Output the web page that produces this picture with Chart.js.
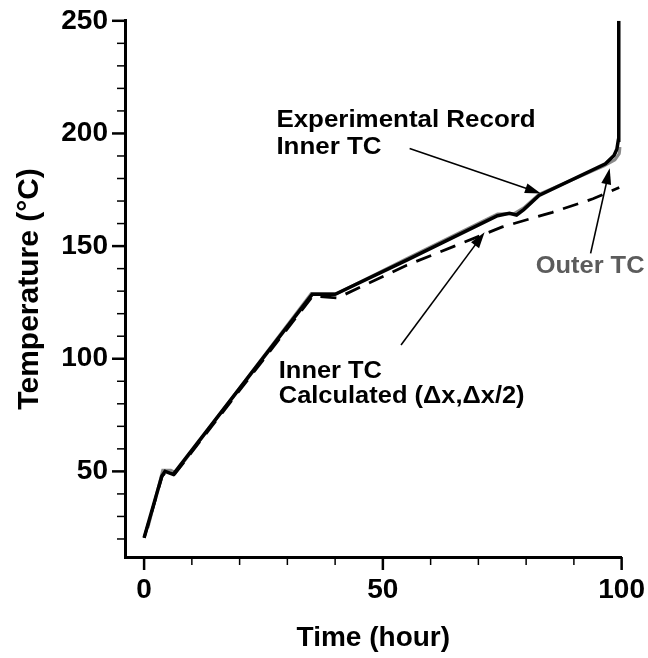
<!DOCTYPE html>
<html>
<head>
<meta charset="utf-8">
<script src="https://cdn.jsdelivr.net/npm/chart.js@4.4.1/dist/chart.umd.min.js"></script>
<style>
  html, body { margin: 0; padding: 0; background: #fff; }
</style>
</head>
<body>
<canvas id="myChart" width="648" height="658"></canvas>
<script>
// tick labels / minor ticks
var xTickLabels = [0, 50, 100];
var xMinorTicks = [10, 20, 30, 40, 60, 70, 80, 90];
var yTickLabels = [50, 100, 150, 200, 250];
var yMinorTicks = [20, 30, 40, 60, 70, 80, 90, 110, 120, 130, 140, 160, 170, 180, 190, 210, 220, 230, 240];

// Experimental record, inner TC (hour, degC)
var expTime = [0, 3.7, 4.4, 6.1, 35.2, 40.0, 55, 74, 76.5, 78, 79.5, 82.7, 96.6, 98.4, 99.0, 99.3, 99.4];
var expTemp = [20.5, 47.8, 50, 48.7, 128.6, 128.6, 143.8, 163.5, 164.6, 163.8, 166.2, 172.5, 186.5, 190.2, 193, 197, 250];

// Experimental record, outer TC
var outerTime = [0.8, 3.9, 5.6, 6.6, 35.0, 40.3, 55, 74, 77.5, 79.5, 82.7, 96.3, 98.6, 99.5, 99.7];
var outerTemp = [25, 50.5, 50.5, 49.5, 129, 128.8, 144.5, 164.2, 164.5, 167, 173, 185.6, 188.3, 191, 194];

// Calculated inner TC (dx, dx/2)
var calcTime = [0, 3.8, 4.5, 6.3, 35.3, 40.5, 55, 65, 75, 85.5, 94, 99.5];
var calcTemp = [20.5, 48, 49.5, 48.5, 127.8, 127, 141.5, 150, 158.5, 165, 171, 176];

function toPoints(xs, ys){
    var pts = [];
    for(let i = 0; i < xs.length; i++){
        pts.push({x: xs[i], y: ys[i]});
    }
    return pts;
}

var FONT = "'Liberation Sans', Arial, Helvetica, sans-serif";

// annotation texts and arrows, in data coordinates
var labels = [
    {text: "Experimental Record", x: 27.7, y: 205.7, color: "#000", sx: 1.08},
    {text: "Inner TC",            x: 27.7, y: 193.8, color: "#000", sx: 1.08},
    {text: "Inner TC",            x: 28.2, y: 94.3,  color: "#000", sx: 1.06},
    {text: "Calculated (\u0394x,\u0394x/2)", x: 28.2, y: 83.2, color: "#000", sx: 1.06},
    {text: "Outer TC",            x: 82.0, y: 141,   color: "#5c5c5c", sx: 1.06}
];
var arrows = [
    {from: [55.6, 193.3], to: [83.1, 173.4]},
    {from: [53.8, 106.1], to: [71.3, 156.1]},
    {from: [93.5, 146.8], to: [97.5, 184.5]}
];

var extras = {
    id: "extras",
    afterDraw: function(chart){
        var c = chart.ctx;
        var xs = chart.scales.x, ys = chart.scales.y;
        var area = chart.chartArea;
        c.save();
        c.strokeStyle = "#000";
        c.lineCap = "butt";
        // ticks on x axis (outward)
        xTickLabels.concat(xMinorTicks).forEach(function(v){
            var major = xTickLabels.indexOf(v) >= 0;
            var px = xs.getPixelForValue(v);
            c.lineWidth = major ? 2.5 : 1.5;
            c.beginPath();
            c.moveTo(px, area.bottom);
            c.lineTo(px, area.bottom + (major ? 13 : 8));
            c.stroke();
        });
        // ticks on y axis (outward)
        yTickLabels.concat(yMinorTicks).forEach(function(v){
            var major = yTickLabels.indexOf(v) >= 0;
            var py = ys.getPixelForValue(v);
            c.lineWidth = major ? 2.5 : 1.5;
            c.beginPath();
            c.moveTo(area.left, py);
            c.lineTo(area.left - (major ? 13 : 8), py);
            c.stroke();
        });
        // annotation texts
        c.font = "bold 24px " + FONT;
        c.textAlign = "left";
        c.textBaseline = "middle";
        labels.forEach(function(l){
            c.save();
            c.translate(xs.getPixelForValue(l.x), ys.getPixelForValue(l.y));
            c.scale(l.sx, 1);
            c.fillStyle = l.color;
            c.fillText(l.text, 0, 0);
            c.restore();
        });
        // arrows
        arrows.forEach(function(a){
            var x0 = xs.getPixelForValue(a.from[0]), y0 = ys.getPixelForValue(a.from[1]);
            var x1 = xs.getPixelForValue(a.to[0]),   y1 = ys.getPixelForValue(a.to[1]);
            var ang = Math.atan2(y1 - y0, x1 - x0);
            var hl = 16, hw = 5;
            c.lineWidth = 1.6;
            c.beginPath();
            c.moveTo(x0, y0);
            c.lineTo(x1 - Math.cos(ang) * hl * 0.8, y1 - Math.sin(ang) * hl * 0.8);
            c.stroke();
            c.fillStyle = "#000";
            c.beginPath();
            c.moveTo(x1, y1);
            c.lineTo(x1 - Math.cos(ang) * hl - Math.sin(ang) * hw, y1 - Math.sin(ang) * hl + Math.cos(ang) * hw);
            c.lineTo(x1 - Math.cos(ang) * hl + Math.sin(ang) * hw, y1 - Math.sin(ang) * hl - Math.cos(ang) * hw);
            c.closePath();
            c.fill();
        });
        c.restore();
    }
};

var ctx = document.getElementById("myChart");
var chart = new Chart(ctx, {
    type: "scatter",
    data: {
        datasets: [{
            label: "Experimental Record Inner TC",
            data: toPoints(expTime, expTemp),
            showLine: true,
            borderColor: "#000",
            borderWidth: 3.5,
            pointRadius: 0,
            order: 0
        }, {
            label: "Inner TC Calculated",
            data: toPoints(calcTime, calcTemp),
            showLine: true,
            borderColor: "#000",
            borderWidth: 2.8,
            borderDash: [16, 10],
            pointRadius: 0,
            order: 1
        }, {
            label: "Outer TC",
            data: toPoints(outerTime, outerTemp),
            showLine: true,
            borderColor: "#8a8a8a",
            borderWidth: 3,
            pointRadius: 0,
            order: 2
        }]
    },
    options: {
        responsive: false,
        animation: false,
        devicePixelRatio: 1,
        layout: { padding: { top: 20, right: 26, left: 0, bottom: 0 } },
        plugins: { legend: { display: false }, tooltip: { enabled: false } },
        scales: {
            x: {
                type: "linear",
                min: -4,
                max: 100,
                afterBuildTicks: function(s){ s.ticks = xTickLabels.map(function(v){ return {value: v}; }); },
                afterFit: function(s){ s.height = 101; },
                grid: { drawOnChartArea: false, color: "rgba(0,0,0,0)", tickLength: 13 },
                border: { display: true, color: "#000", width: 3 },
                ticks: { color: "#000", font: { family: FONT, size: 28, weight: "bold" }, padding: 3, maxRotation: 0, autoSkip: false },
                title: { display: true, text: "Time (hour)", color: "#000", font: { family: FONT, size: 28, weight: "bold" }, padding: { top: 10, bottom: 3 } }
            },
            y: {
                type: "linear",
                min: 12,
                max: 250,
                afterBuildTicks: function(s){ s.ticks = yTickLabels.map(function(v){ return {value: v}; }); },
                afterFit: function(s){ s.width = 125; },
                grid: { drawOnChartArea: false, color: "rgba(0,0,0,0)", tickLength: 13 },
                border: { display: true, color: "#000", width: 3 },
                ticks: { color: "#000", font: { family: FONT, size: 28, weight: "bold" }, padding: 4, autoSkip: false },
                title: { display: true, text: "Temperature (\u00B0C)", color: "#000", font: { family: FONT, size: 30, weight: "bold" }, padding: { top: 12, bottom: 4 } }
            }
        }
    },
    plugins: [extras]
});
</script>
</body>
</html>
